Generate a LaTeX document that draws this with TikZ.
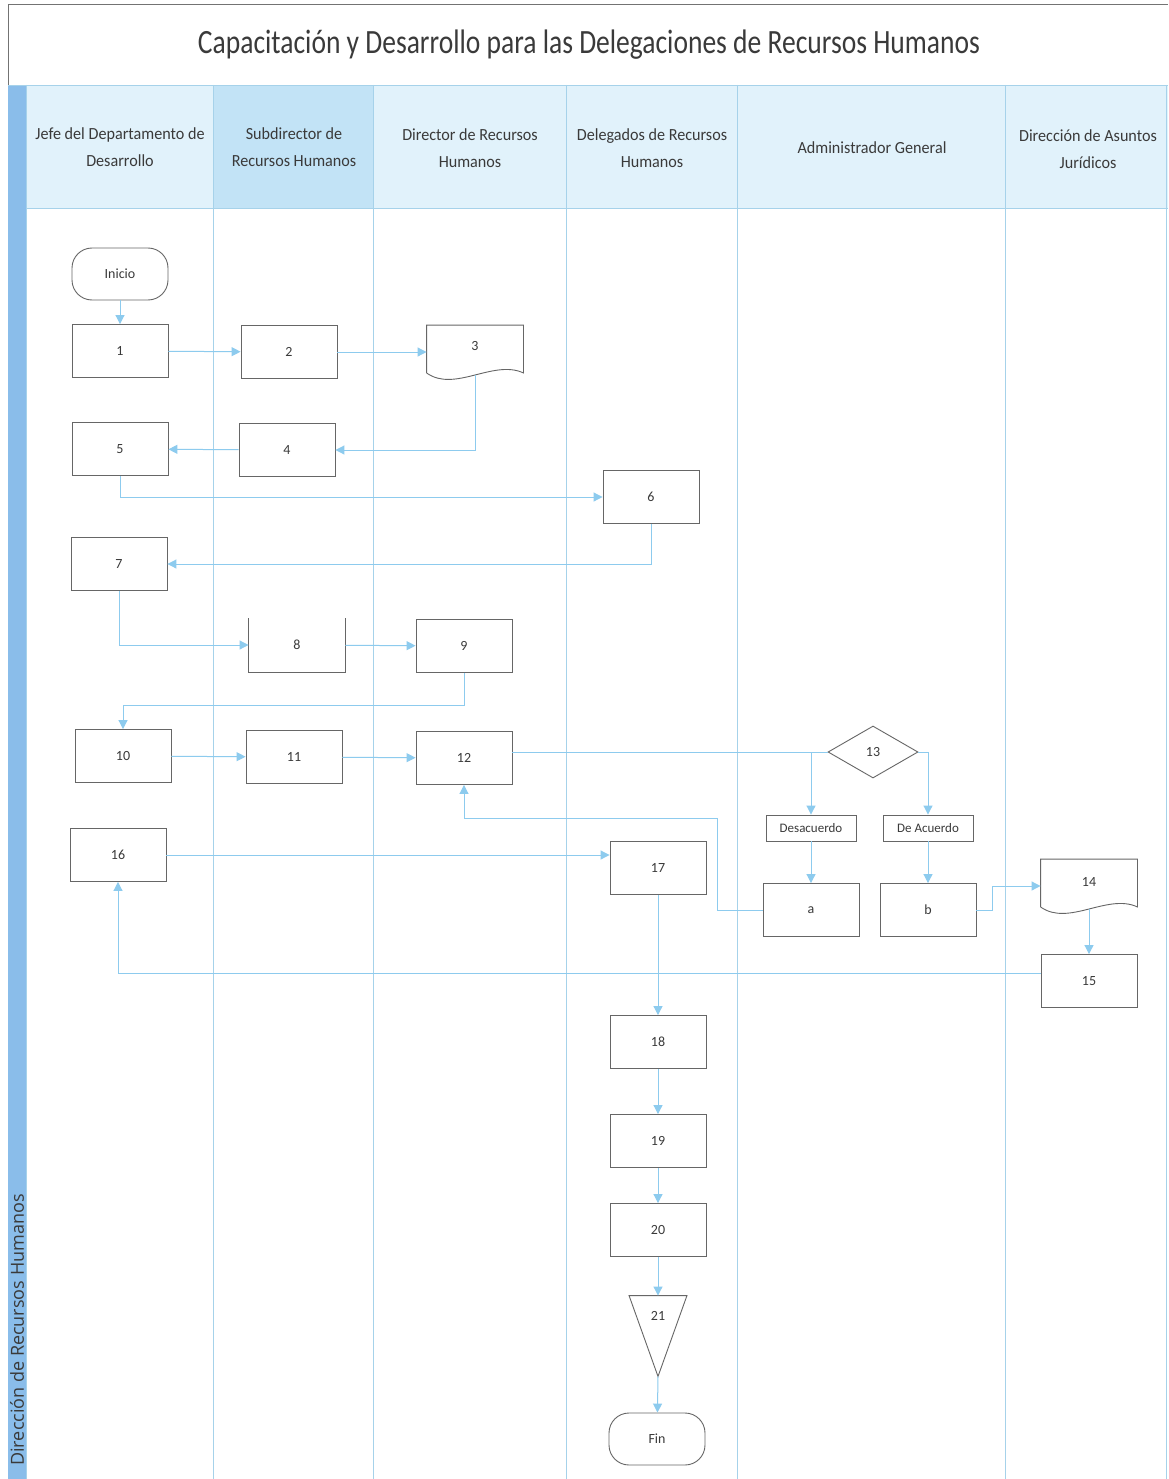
\documentclass[tikz,border=0pt]{standalone}
\usepackage{fontspec}
\setmainfont{Carlito}
\newfontfamily\stripfont{Open Sans}
\usetikzlibrary{arrows.meta,calc,positioning,shapes.geometric}
\definecolor{flowblue}{HTML}{8DCBEE}
\definecolor{lanegray}{HTML}{A6D2EA}
\definecolor{headfill}{HTML}{E1F2FB}
\definecolor{headsel}{HTML}{C2E3F6}
\definecolor{stripblue}{HTML}{8ABDEA}
\definecolor{inkgray}{HTML}{3A3A3A}
\tikzset{
  box/.style   = {draw=black!60, fill=white, line width=0.9pt, minimum width=96pt, minimum height=53pt,
                  inner sep=0pt, text=inkgray, font=\fontsize{14}{16}\selectfont},
  bare/.style  = {box, draw=none, fill=none},
  term/.style  = {box, rounded corners=20pt, minimum height=52pt},
  cond/.style  = {diamond, aspect=1.7, draw=black!60, fill=white, line width=0.9pt, minimum width=90pt,
                  minimum height=52pt, inner sep=0pt, text=inkgray, font=\fontsize{14}{16}\selectfont},
  tag/.style   = {box, minimum width=90pt, minimum height=26pt, font=\fontsize{13}{15}\selectfont},
  frame/.style = {draw=black!60, line width=0.9pt},
  link/.style  = {draw=flowblue, line width=1pt},
  flow/.style  = {link, -{Triangle[length=9pt,width=9pt]}},
  lane/.style  = {draw=lanegray, line width=0.9pt},
  head/.style  = {align=center, text=inkgray, font=\fontsize{17}{27}\selectfont, xscale=0.95},
}
\newcommand{\docframe}[1]{%
  \draw[frame] ($(#1.south west)+(0,-6)$) -- (#1.north west) -- (#1.north east) -- ($(#1.south east)+(0,-6)$)
    .. controls ($(#1.south east)+(-30,-20)$) and ($(#1.south west)+(28,14)$) .. ($(#1.south west)+(0,-6)$);}

\begin{document}
\begin{tikzpicture}[x=1pt,y=-1pt]
  \useasboundingbox (0,0) rectangle (1168,1479);
  \fill[white] (0,0) rectangle (1168,1479);
  \draw[black!55, line width=1pt] (8,1479) -- (8,5) -- (1168,5);
  \node[text=inkgray, font=\fontsize{34}{38}\selectfont, xscale=0.81] (title) at (589,45)
    {Capacitación y Desarrollo para las Delegaciones de Recursos Humanos};
  % carriles
  \fill[headfill] (26,85) rectangle (1168,208);
  \fill[headsel] (213,85) rectangle (373,208);
  \fill[stripblue] (8,85) rectangle (26,1479);
  \draw[lane] (8,85) -- (1168,85);
  \draw[lane] (26,208) -- (1168,208);
  \foreach \lx in {26,213,373,566,737,1005,1166}
    \draw[lane] (\lx,85) -- (\lx,1479);
  \node[head] (h1) at (120,147) {Jefe del Departamento de\\Desarrollo};
  \node[head] (h2) at (294,147) {Subdirector de\\Recursos Humanos};
  \node[head] (h3) at (470,148) {Director de Recursos\\Humanos};
  \node[head] (h4) at (652,148) {Delegados de Recursos\\Humanos};
  \node[head] (h5) at (872,148) {Administrador General};
  \node[head] (h6) at (1088,149) {Dirección de Asuntos\\Jurídicos};
  \node[rotate=90, text=inkgray, font=\stripfont\fontsize{18}{20}\selectfont] (strip) at (17,1330)
    {Dirección de Recursos Humanos};
  % pasos
  \node[term] (ini) at (120,274) {Inicio};
  \node[box]  (n1)  at (120,351) {1};
  \node[box]  (n2)  at (289,352) {2};
  \node[bare] (n3)  at (475,352) {};
  \docframe{n3}
  \node[text=inkgray, font=\fontsize{14}{16}\selectfont] (n3t) at (475,346) {3};
  \node[box]  (n4)  at (287,450) {4};
  \node[box]  (n5)  at (120,449) {5};
  \node[box]  (n6)  at (651,497) {6};
  \node[box]  (n7)  at (119,564) {7};
  \node[bare] (n8)  at (297,645) {8};
  \draw[frame] (n8.north west) -- (n8.south west) -- (n8.south east) -- (n8.north east);
  \node[box]  (n9)  at (464,646) {9};
  \node[box]  (n10) at (123,756) {10};
  \node[box]  (n11) at (294,757) {11};
  \node[box]  (n12) at (464,758) {12};
  \node[cond] (n13) at (873,752) {13};
  \node[tag]  (des) at (811,828) {Desacuerdo};
  \node[tag]  (acu) at (928,828) {De Acuerdo};
  \node[box]  (na)  at (811,910) {a};
  \node[box]  (nb)  at (928,910) {b};
  \node[bare] (n14) at (1089,886) {};
  \docframe{n14}
  \node[text=inkgray, font=\fontsize{14}{16}\selectfont] (n14t) at (1089,882) {14};
  \node[box]  (n15) at (1089,981) {15};
  \node[box]  (n16) at (118,855) {16};
  \node[box]  (n17) at (658,868) {17};
  \node[box]  (n18) at (658,1042) {18};
  \node[box]  (n19) at (658,1141) {19};
  \node[box]  (n20) at (658,1230) {20};
  \node[bare, minimum width=57pt, minimum height=80pt] (n21) at (658,1336) {};
  \draw[frame] (n21.north west) -- (n21.north east) -- (n21.south) -- cycle;
  \node[text=inkgray, font=\fontsize{14}{16}\selectfont] (n21t) at (658,1316) {21};
  \node[term] (fin) at (657,1439) {Fin};
  % conectores
  \draw[flow] (ini) -- (n1);
  \draw[flow] (n1) -- (n2);
  \draw[flow] (n2) -- (n3);
  \draw[flow] ($(n3.south)+(0,-4)$) |- (n4.east);
  \draw[flow] (n4) -- (n5);
  \draw[flow] (n5.south) |- (n6.west);
  \draw[flow] (n6.south) |- (n7.east);
  \draw[flow] (n7.south) |- (n8.west);
  \draw[flow] (n8) -- (n9);
  \draw[flow] (n9.south) -- ++(0,33) -| (n10.north);
  \draw[flow] (n10) -- (n11);
  \draw[flow] (n11) -- (n12);
  \draw[link] (n12.east |- n13.west) -- (n13.west);
  \draw[flow] (n13.west) -| (des.north);
  \draw[flow] (n13.east) -| (acu.north);
  \draw[flow] (des) -- (na);
  \draw[flow] (acu) -- (nb);
  \draw[flow] (na.west) -| ++(-45,-92) -| (n12.south);
  \draw[flow] (nb.east) -- ++(16,0) |- (n14.west);
  \draw[flow] ($(n14.south)+(0,-4)$) -- (n15.north);
  \draw[flow] ($(n15.west)+(0,-8)$) -| (n16.south);
  \draw[flow] (n16.east) -- (n16.east -| n17.west);
  \draw[flow] (n17) -- (n18);
  \draw[flow] (n18) -- (n19);
  \draw[flow] (n19) -- (n20);
  \draw[flow] (n20) -- (n21.north);
  \draw[flow] (n21.south) -- (fin);
\end{tikzpicture}
\end{document}
